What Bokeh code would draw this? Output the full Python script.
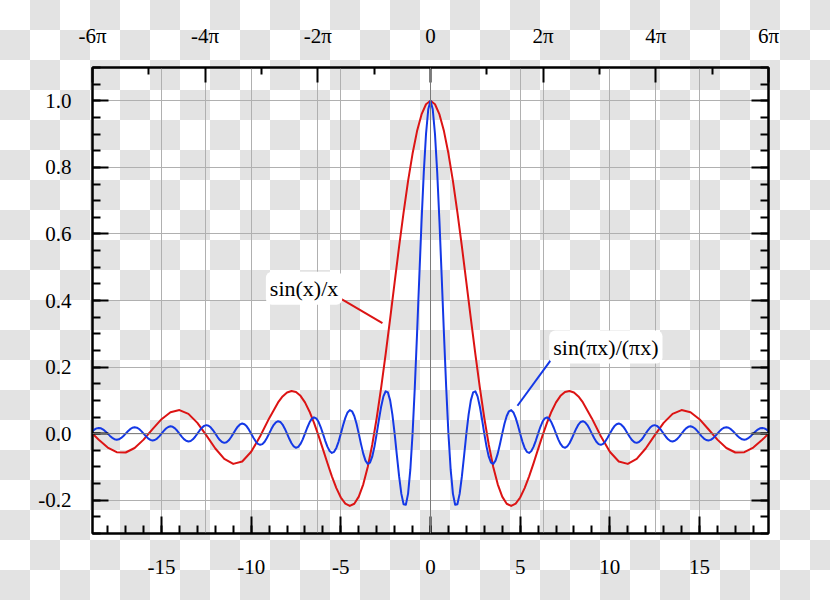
from bokeh.plotting import figure
from bokeh.models import (Range1d, LinearAxis, FixedTicker, Grid, Label, Span,
                          PrintfTickFormatter, CustomJSTickFormatter, InlineStyleSheet,
                          ColumnDataSource)
from bokeh.embed import file_html
from bokeh.resources import INLINE

# ---------------- data (x >= 0; both curves are even) ----------------
red_x = [0.0, 0.25, 0.5, 0.75, 1.0, 1.25, 1.5, 1.75, 2.0, 2.25, 2.5, 2.75, 3.0, 3.25,
         3.5, 3.75, 4.0, 4.25, 4.5, 4.75, 5.0, 5.25, 5.5, 5.75, 6.0, 6.25, 6.5, 6.75,
         7.0, 7.25, 7.5, 7.75, 8.0, 8.25, 8.5, 9.0, 9.5, 10.0, 10.5, 11.0, 11.5, 12.0,
         12.5, 13.0, 13.5, 14.0, 14.5, 15.0, 15.5, 16.0, 16.5, 17.0, 17.5, 18.0, 18.5, 19.0]
red_y = [1.0, 0.9896, 0.9589, 0.9089, 0.8415, 0.7592, 0.6650, 0.5623, 0.4546, 0.3458,
         0.2394, 0.1388, 0.0470, -0.0333, -0.1002, -0.1524, -0.1892, -0.2106, -0.2172,
         -0.2104, -0.1918, -0.1636, -0.1283, -0.0884, -0.0466, -0.0053, 0.0331, 0.0667,
         0.0939, 0.1136, 0.1251, 0.1283, 0.1237, 0.1118, 0.0939, 0.0458, -0.0079, -0.0544,
         -0.0838, -0.0909, -0.0761, -0.0447, -0.0053, 0.0323, 0.0595, 0.0708, 0.0645,
         0.0434, 0.0133, -0.0180, -0.0431, -0.0566, -0.0557, -0.0417, -0.0185, 0.0079]

blue_x = [0.0, 0.125, 0.25, 0.375, 0.5, 0.625, 0.75, 0.875, 1.0, 1.125, 1.25, 1.375,
          1.5, 1.625, 1.75, 1.875, 2.0, 2.125, 2.25, 2.375, 2.5, 2.625, 2.75, 2.875,
          3.0, 3.125, 3.25, 3.375, 3.5, 3.625, 3.75, 3.875, 4.0, 4.125, 4.25, 4.375,
          4.5, 4.625, 4.75, 4.875, 5.0, 5.125, 5.25, 5.375, 5.5, 5.625, 5.75, 5.875,
          6.0, 6.125, 6.25, 6.375, 6.5, 6.625, 6.75, 6.875, 7.0, 7.125, 7.25, 7.375,
          7.5, 7.625, 7.75, 7.875, 8.0, 8.125, 8.25, 8.375, 8.5, 8.625, 8.75, 8.875,
          9.0, 9.125, 9.25, 9.375, 9.5, 9.625, 9.75, 9.875, 10.0, 10.125, 10.25, 10.375,
          10.5, 10.625, 10.75, 10.875, 11.0, 11.125, 11.25, 11.375, 11.5, 11.625, 11.75, 11.875,
          12.0, 12.125, 12.25, 12.375, 12.5, 12.625, 12.75, 12.875, 13.0, 13.125, 13.25, 13.375,
          13.5, 13.625, 13.75, 13.875, 14.0, 14.125, 14.25, 14.375, 14.5, 14.625, 14.75, 14.875,
          15.0, 15.125, 15.25, 15.375, 15.5, 15.625, 15.75, 15.875, 16.0, 16.125, 16.25, 16.375,
          16.5, 16.625, 16.75, 16.875, 17.0, 17.125, 17.25, 17.375, 17.5, 17.625, 17.75, 17.875,
          18.0, 18.125, 18.25, 18.375, 18.5, 18.625, 18.75, 18.875, 19.0]
blue_y = [1.0, 0.9745, 0.9003, 0.7842, 0.6366, 0.4705, 0.3001, 0.1392,
          0.0, -0.1083, -0.1801, -0.2139, -0.2122, -0.1810, -0.1286, -0.0650,
          0.0, 0.0573, 0.1000, 0.1238, 0.1273, 0.1120, 0.0818, 0.0424,
          0.0, -0.0390, -0.0693, -0.0871, -0.0909, -0.0811, -0.0600, -0.0314,
          0.0, 0.0295, 0.0530, 0.0672, 0.0707, 0.0636, 0.0474, 0.0250,
          0.0, -0.0238, -0.0429, -0.0547, -0.0579, -0.0523, -0.0391, -0.0207,
          0.0, 0.0199, 0.0360, 0.0461, 0.0490, 0.0444, 0.0333, 0.0177,
          0.0, -0.0171, -0.0310, -0.0399, -0.0424, -0.0386, -0.0290, -0.0155,
          0.0, 0.0150, 0.0273, 0.0351, 0.0374, 0.0341, 0.0257, 0.0137,
          0.0, -0.0133, -0.0243, -0.0314, -0.0335, -0.0306, -0.0231, -0.0123,
          0.0, 0.0120, 0.0220, 0.0283, 0.0303, 0.0277, 0.0209, 0.0112,
          0.0, -0.0109, -0.0200, -0.0259, -0.0277, -0.0253, -0.0192, -0.0103,
          0.0, 0.0100, 0.0184, 0.0238, 0.0255, 0.0233, 0.0177, 0.0095,
          0.0, -0.0093, -0.0170, -0.0220, -0.0236, -0.0216, -0.0164, -0.0088,
          0.0, 0.0086, 0.0158, 0.0205, 0.0220, 0.0201, 0.0153, 0.0082,
          0.0, -0.0081, -0.0148, -0.0191, -0.0205, -0.0188, -0.0143, -0.0077,
          0.0, 0.0076, 0.0139, 0.0180, 0.0193, 0.0177, 0.0134, 0.0072,
          0.0, -0.0071, -0.0130, -0.0169, -0.0182, -0.0167, -0.0127, -0.0068,
          0.0, 0.0067, 0.0123, 0.0160, 0.0172, 0.0158, 0.0120, 0.0065,
          0.0]

x_major_ticks = [-15, -10, -5, 0, 5, 10, 15]
x_minor_ticks = [-18, -17, -16, -15, -14, -13, -12, -11, -10, -9, -8, -7, -6, -5, -4, -3,
                 -2, -1, 0, 1, 2, 3, 4, 5, 6, 7, 8, 9, 10, 11, 12, 13, 14, 15, 16, 17, 18]
y_major_ticks = [-0.2, 0.0, 0.2, 0.4, 0.6, 0.8, 1.0]
y_minor_ticks = [-0.3, -0.25, -0.2, -0.15, -0.1, -0.05, 0.0, 0.05, 0.1, 0.15, 0.2, 0.25,
                 0.3, 0.35, 0.4, 0.45, 0.5, 0.55, 0.6, 0.65, 0.7, 0.75, 0.8, 0.85, 0.9,
                 0.95, 1.0, 1.05, 1.1]
pi_major_ticks = [-6, -4, -2, 0, 2, 4, 6]
pi_minor_ticks = [-5, -3, -1, 1, 3, 5]
pi_tick_labels = ["-6π", "-4π", "-2π", "0", "2π", "4π", "6π"]

series_labels = ["sin(x)/x", "sin(πx)/(πx)"]

# ---------------- build full (mirrored) curves ----------------
def mirror(xs, ys):
    fx = [-v for v in reversed(xs[1:])] + list(xs)
    fy = list(reversed(ys[1:])) + list(ys)
    return fx, fy

rx, ry = mirror(red_x, red_y)
bx, by = mirror(blue_x, blue_y)

RED = "#dc1414"
BLUE = "#1438e6"
FONT = "Liberation Serif"
SIX_PI = 18.84956

css = InlineStyleSheet(css=":host { background: repeating-conic-gradient(#e3e3e3 0 25%, #ffffff 0 50%) 0 0 / 60px 60px; }")

p = figure(width=830, height=600, output_backend="svg", toolbar_location=None,
           x_range=Range1d(-SIX_PI, SIX_PI), y_range=Range1d(-0.3, 1.1),
           min_border_left=92, min_border_right=62, min_border_top=67, min_border_bottom=67,
           background_fill_color=None, border_fill_color=None,
           stylesheets=[css])
p.extra_x_ranges = {"pi": Range1d(-6, 6)}
p.outline_line_color = "black"
p.outline_line_width = 2


def style_axis(ax, major_in, minor_in):
    ax.axis_line_color = "black"
    ax.axis_line_width = 2
    ax.major_tick_line_width = 2
    ax.minor_tick_line_width = 2
    ax.major_tick_in = major_in
    ax.major_tick_out = 0
    ax.minor_tick_in = minor_in
    ax.minor_tick_out = 0
    ax.major_label_text_font = FONT
    ax.major_label_text_font_size = "21px"
    ax.major_label_text_color = "black"

# bottom axis
xax = p.xaxis[0]
xax.ticker = FixedTicker(ticks=x_major_ticks, minor_ticks=x_minor_ticks)
xax.formatter = PrintfTickFormatter(format="%d")
style_axis(xax, 17, 8)
xax.major_label_standoff = 26

# left axis
yax = p.yaxis[0]
yax.ticker = FixedTicker(ticks=y_major_ticks, minor_ticks=y_minor_ticks)
yax.formatter = PrintfTickFormatter(format="%.1f")
style_axis(yax, 16, 8)
yax.major_label_standoff = 21

# right axis (ticks only)
rax = LinearAxis(ticker=FixedTicker(ticks=y_major_ticks, minor_ticks=y_minor_ticks),
                 formatter=CustomJSTickFormatter(code="return ''"))
style_axis(rax, 17, 8)
p.add_layout(rax, "right")

# top axis in multiples of pi
pi_ticker = FixedTicker(ticks=pi_major_ticks, minor_ticks=pi_minor_ticks)
tax = LinearAxis(x_range_name="pi", ticker=pi_ticker,
                 major_label_overrides=dict(zip(pi_major_ticks, pi_tick_labels)))
style_axis(tax, 15, 7)
tax.major_label_standoff = 20
p.add_layout(tax, "above")

# grids
for g in (p.xgrid[0], p.ygrid[0]):
    g.grid_line_color = "#b0b0b0"
    g.grid_line_width = 1
p.add_layout(Grid(dimension=0, ticker=pi_ticker, x_range_name="pi",
                  grid_line_color="#b0b0b0", grid_line_width=1))
p.add_layout(Span(location=0, dimension="width", line_color="#7a7a7a", line_width=1))
p.add_layout(Span(location=0, dimension="height", line_color="#7a7a7a", line_width=1))

# curves
p.line(x="x", y="y", source=ColumnDataSource(dict(x=rx, y=ry)), line_color=RED,
       line_width=2, line_join="round")
p.line(x="x", y="y", source=ColumnDataSource(dict(x=bx, y=by)), line_color=BLUE,
       line_width=2, line_join="round")

# leader lines
p.segment(x0=[-4.96, 6.80], y0=[0.404, 0.2275], x1=[-2.68, 4.85], y1=[0.332, 0.0837],
          line_color=[RED, BLUE], line_width=2)

# labels
for txt, lx, ly in zip(series_labels, [-7.05, 9.78], [0.437, 0.260]):
    p.add_layout(Label(x=lx, y=ly, text=txt, text_font=FONT, text_font_size="22px",
                       text_align="center", text_baseline="middle", text_color="black",
                       background_fill_color="white", border_radius=6, padding=4))

open("out.html", "w").write(file_html(p, INLINE))
